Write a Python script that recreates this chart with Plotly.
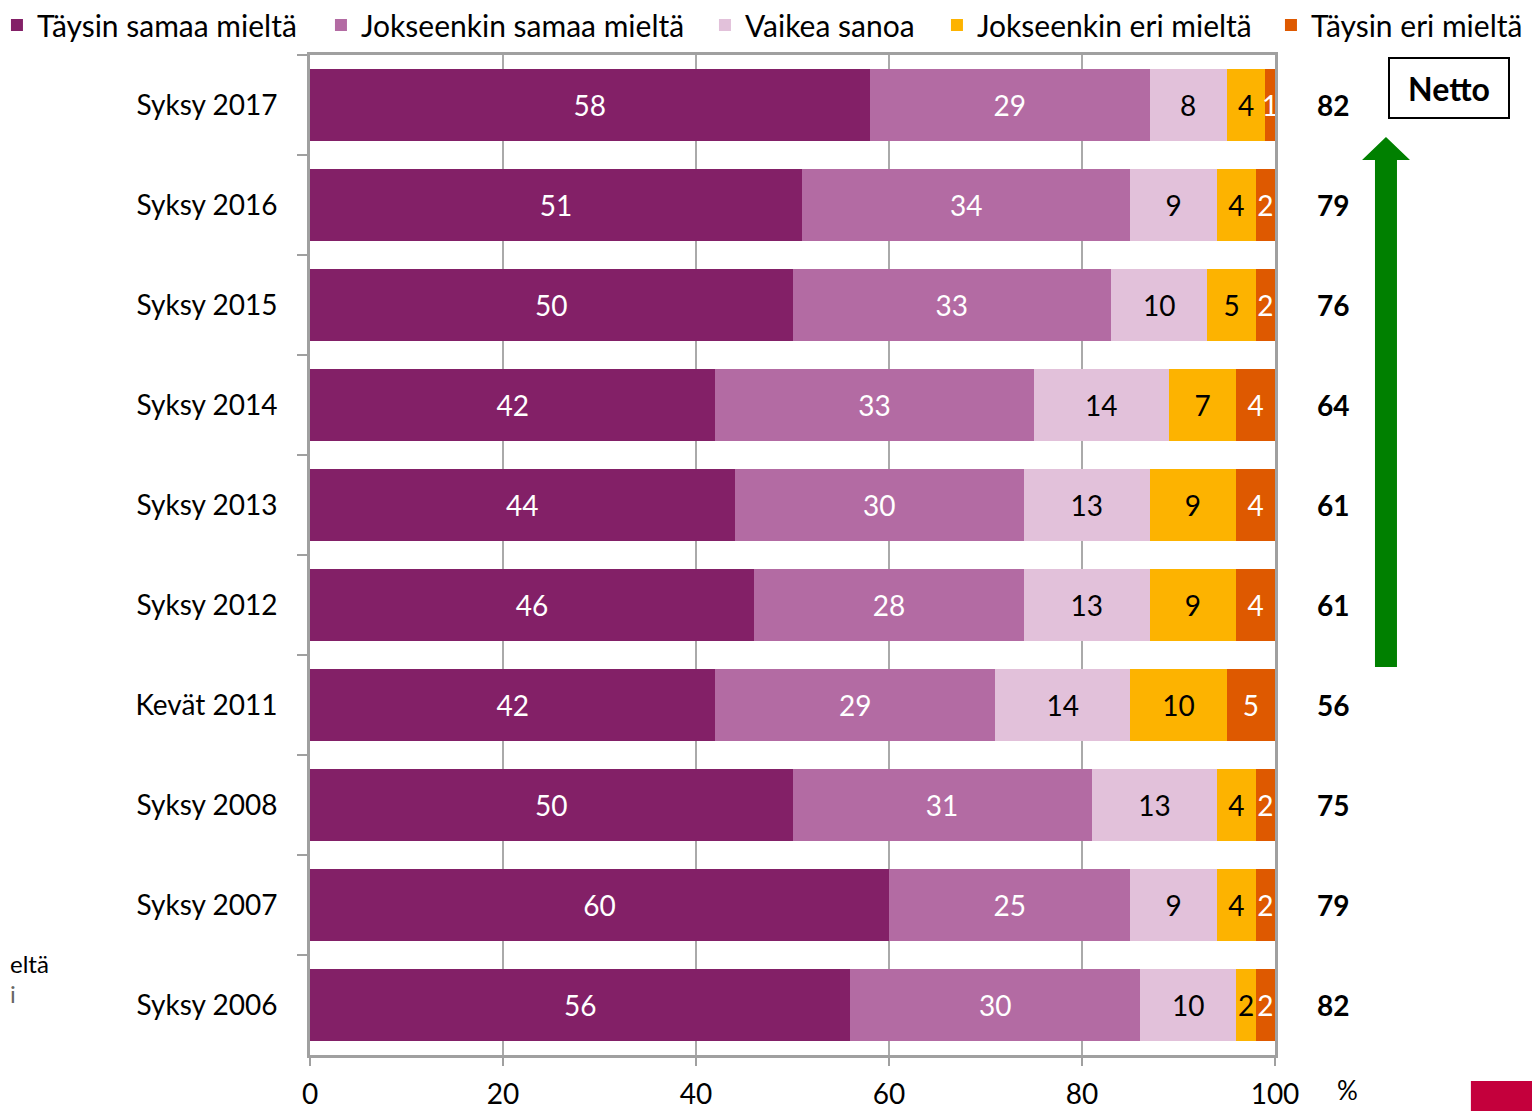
import plotly.graph_objects as go

# Data
categories = ['Syksy 2017', 'Syksy 2016', 'Syksy 2015', 'Syksy 2014', 'Syksy 2013',
              'Syksy 2012', 'Kevät 2011', 'Syksy 2008', 'Syksy 2007', 'Syksy 2006']
taysin_samaa = [58, 51, 50, 42, 44, 46, 42, 50, 60, 56]
jokseenkin_samaa = [29, 34, 33, 33, 30, 28, 29, 31, 25, 30]
vaikea_sanoa = [8, 9, 10, 14, 13, 13, 14, 13, 9, 10]
jokseenkin_eri = [4, 4, 5, 7, 9, 9, 10, 4, 4, 2]
taysin_eri = [1, 2, 2, 4, 4, 4, 5, 2, 2, 2]
netto = [82, 79, 76, 64, 61, 61, 56, 75, 79, 82]
x_ticks = [0, 20, 40, 60, 80, 100]

# name, values, colour, label colour, legend, legend entry width
series = [
    ('Täysin samaa mieltä', taysin_samaa, '#832067', 'white', 'legend', 279),
    ('Jokseenkin samaa mieltä', jokseenkin_samaa, '#B36BA3', 'white', 'legend', 339),
    ('Vaikea sanoa', vaikea_sanoa, '#E2C1DA', 'black', 'legend', None),
    ('Jokseenkin eri mieltä', jokseenkin_eri, '#FDB300', 'black', 'legend2', 289),
    ('Täysin eri mieltä', taysin_eri, '#DE5900', 'white', 'legend2', None),
]

FONT = 'Lato'
fig = go.Figure()

for name, vals, color, tcolor, leg, lw in series:
    fig.add_trace(go.Bar(
        name=name,
        y=categories,
        x=vals,
        orientation='h',
        marker=dict(color=color, line=dict(width=0)),
        text=vals,
        textposition='inside',
        insidetextanchor='middle',
        constraintext='none',
        textfont=dict(color=tcolor, size=28, family=FONT),
        width=0.72,
        legend=leg,
        legendwidth=lw,
        hovertemplate='<b>' + name + '</b><br>%{y}: %{x}<extra></extra>'
    ))

# Netto values on the right
for cat, n in zip(categories, netto):
    fig.add_annotation(x=1.06, xref='paper', y=cat, yref='y', text='<b>%d</b>' % n,
                       xanchor='center', showarrow=False,
                       font=dict(size=28, color='black', family=FONT))

# Netto box
fig.add_annotation(x=1.180, y=0.967, xref='paper', yref='paper', text='<b>Netto</b>',
                   xanchor='center', yanchor='middle', showarrow=False,
                   font=dict(size=32, color='black', family=FONT),
                   bordercolor='black', borderwidth=2, width=116, height=56, bgcolor='white')

# Green arrow
fig.add_shape(type='path', xref='paper', yref='paper',
              path='M 1.1036 0.388 L 1.1264 0.388 L 1.1264 0.895 L 1.1399 0.895 '
                   'L 1.1150 0.918 L 1.0902 0.895 L 1.1036 0.895 Z',
              fillcolor='#008000', line=dict(width=0))

# % label
fig.add_annotation(x=1.0756, y=-0.053, xref='paper', yref='paper', text='%',
                   xanchor='center', showarrow=False,
                   font=dict(size=26, color='black', family=FONT))

# cropped fragments at left edge
fig.add_annotation(x=-0.3130, y=0.075, xref='paper', yref='paper', text='eltä', xanchor='left',
                   showarrow=False, font=dict(size=24, color='black', family=FONT))
fig.add_annotation(x=-0.3125, y=0.045, xref='paper', yref='paper', text='i', xanchor='left',
                   showarrow=False, font=dict(size=24, color='#666666', family=FONT))

# partial logo in the corner
fig.add_shape(type='rect', xref='paper', yref='paper', x0=1.203, x1=1.28, y0=-0.08, y1=-0.026,
              fillcolor='#C4003C', line=dict(width=0), layer='above')

legend_style = dict(orientation='h', xanchor='left', y=1.056, yanchor='top',
                    font=dict(size=30, family=FONT), itemwidth=30, traceorder='normal',
                    bgcolor='rgba(0,0,0,0)', borderwidth=0)

# page has an 8px body margin, so the figure is 8px smaller than the window
fig.update_layout(
    width=1532, height=1103,
    barmode='stack',
    margin=dict(l=302, r=265, t=47, b=56, autoexpand=False),
    plot_bgcolor='white',
    paper_bgcolor='white',
    font=dict(family=FONT, size=28, color='black'),
    uniformtext=dict(minsize=28, mode='show'),
    showlegend=True,
    legend=dict(x=-0.3244, **legend_style),
    legend2=dict(x=0.6497, **legend_style),
)

fig.update_xaxes(range=[0, 100], tickvals=x_ticks, showgrid=True, gridcolor='#AAAAAA', gridwidth=2,
                 showline=True, linecolor='#A0A0A0', linewidth=3, mirror=True,
                 ticks='outside', ticklen=8, tickwidth=2, tickcolor='#A0A0A0',
                 ticklabelstandoff=4, tickfont=dict(size=28, family=FONT), zeroline=False)
fig.update_yaxes(categoryorder='array', categoryarray=categories, autorange='reversed',
                 showline=True, linecolor='#A0A0A0', linewidth=3, mirror=True,
                 ticks='outside', tickson='boundaries', ticklen=10, tickwidth=2, tickcolor='#A0A0A0',
                 ticklabelstandoff=24, tickfont=dict(size=28, family=FONT), showgrid=False)

fig.write_html('out.html')
